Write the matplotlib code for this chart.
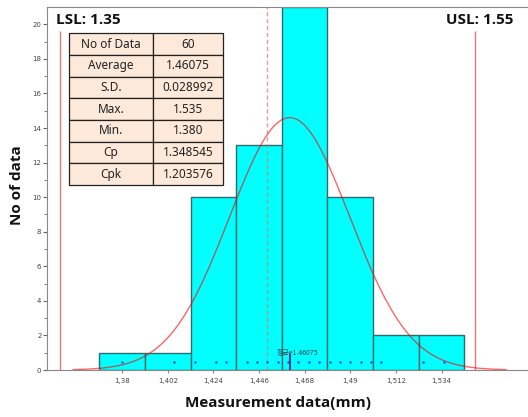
import numpy as np
import matplotlib
matplotlib.use('Agg')
import matplotlib.pyplot as plt

# Histogram data (bin centers and counts)
bin_centers = [1.380, 1.402, 1.424, 1.446, 1.468, 1.490, 1.512, 1.534]
bin_counts = [1, 1, 10, 13, 21, 10, 2, 2]
bin_width = 0.022
tick_labels = ['1,38', '1,402', '1,424', '1,446', '1,468', '1,49', '1,512', '1,534']

# distinct measured values shown as dots along the bottom
point_values = [1.380, 1.405, 1.415, 1.425, 1.430, 1.440, 1.445, 1.450, 1.455,
                1.460, 1.465, 1.470, 1.475, 1.480, 1.485, 1.490, 1.495, 1.500,
                1.505, 1.525, 1.535]

# spec limits and statistics
lsl = 1.35
usl = 1.55
mean = 1.46075
sd = 0.028992
curve_peak = 14.6

stat_names = ['No of Data', 'Average', 'S.D.', 'Max.', 'Min.', 'Cp', 'Cpk']
stat_values = ['60', '1.46075', '0.028992', '1.535', '1.380', '1.348545', '1.203576']

TICK_FONT = ['Liberation Sans Narrow', 'DejaVu Sans']
TABLE_FONT = ['Noto Sans', 'DejaVu Sans']
BOLD_FONT = ['Open Sans', 'DejaVu Sans']

fig = plt.figure(figsize=(5.28, 4.17), dpi=100)
ax = fig.add_axes([0.089, 0.1127, 0.909, 0.8705])

# bars
ax.bar(bin_centers, bin_counts, width=bin_width, color='#00ffff',
       edgecolor='#2f6b6b', linewidth=1, zorder=2)

# fitted normal curve
xs = np.linspace(mean - 3.6 * sd, mean + 3.6 * sd, 300)
ys = curve_peak * np.exp(-0.5 * ((xs - mean) / sd) ** 2)
ax.plot(xs, ys, color='#ff0000', alpha=0.6, lw=1, zorder=4)

# spec limit lines and spec center
ax.vlines([lsl, usl], 0, 19.6, color='#e87878', lw=1, zorder=3)
ax.axvline((lsl + usl) / 2, color='#e07070', alpha=0.7, lw=1,
           dashes=(3, 2), zorder=5)

# data points and mean marker
ax.plot(point_values, [0.45] * len(point_values), 'o', color='#2a48ff',
        ms=1.8, mec='none', zorder=6)
ax.vlines(mean, 0, 1.0, color='#5a3c8a', lw=1.5, zorder=6)
ax.text(mean - 0.0062, 0.85, '평균=1.46075', fontsize=5, color='#334455',
        family=['Noto Sans CJK KR', 'DejaVu Sans'], zorder=7)

ax.set_xlim(1.3437, 1.5752)
ax.set_ylim(0, 21)

ax.set_xticks(bin_centers)
ax.set_xticklabels(tick_labels, family=TICK_FONT, fontsize=5, color='#444')
ax.set_yticks(range(0, 21, 2))
ax.set_yticks(range(1, 21, 2), minor=True)
ax.set_yticklabels([str(v) for v in range(0, 21, 2)], family=TICK_FONT,
                   fontsize=5, color='#444')
ax.tick_params(axis='x', length=2, color='#888', pad=4)
ax.tick_params(axis='y', which='major', length=3, color='#666', pad=1)
ax.tick_params(axis='y', which='minor', length=2, color='#666')

for side in ['left', 'top', 'bottom']:
    ax.spines[side].set_color('#888')
ax.spines['right'].set_visible(False)

# statistics table
rows = [[n, v] for n, v in zip(stat_names, stat_values)]
tbl = ax.table(cellText=rows, cellLoc='center', colWidths=[0.54, 0.46],
               bbox=[0.0465, 0.5096, 0.321, 0.4179], zorder=8)
tbl.auto_set_font_size(False)
for cell in tbl.get_celld().values():
    cell.set_facecolor('#fde9d9')
    cell.set_edgecolor('#222')
    cell.set_linewidth(0.9)
    cell.get_text().set_fontsize(8.5)
    cell.get_text().set_family(TABLE_FONT)
    cell.get_text().set_color('#222')

# spec labels and axis titles
fig.text(0.107, 0.952, 'LSL: 1.35', fontsize=11, fontweight='bold',
         family=BOLD_FONT, va='center', ha='left', color='#111')
fig.text(0.9716, 0.952, 'USL: 1.55', fontsize=11, fontweight='bold',
         family=BOLD_FONT, va='center', ha='right', color='#111')
fig.text(0.032, 0.556, 'No of data', fontsize=11, fontweight='bold',
         family=BOLD_FONT, rotation=90, va='center', ha='center', color='#111')
fig.text(0.527, 0.033, 'Measurement data(mm)', fontsize=11, fontweight='bold',
         family=BOLD_FONT, va='center', ha='center', color='#111')

fig.savefig('out.png', dpi=100)
